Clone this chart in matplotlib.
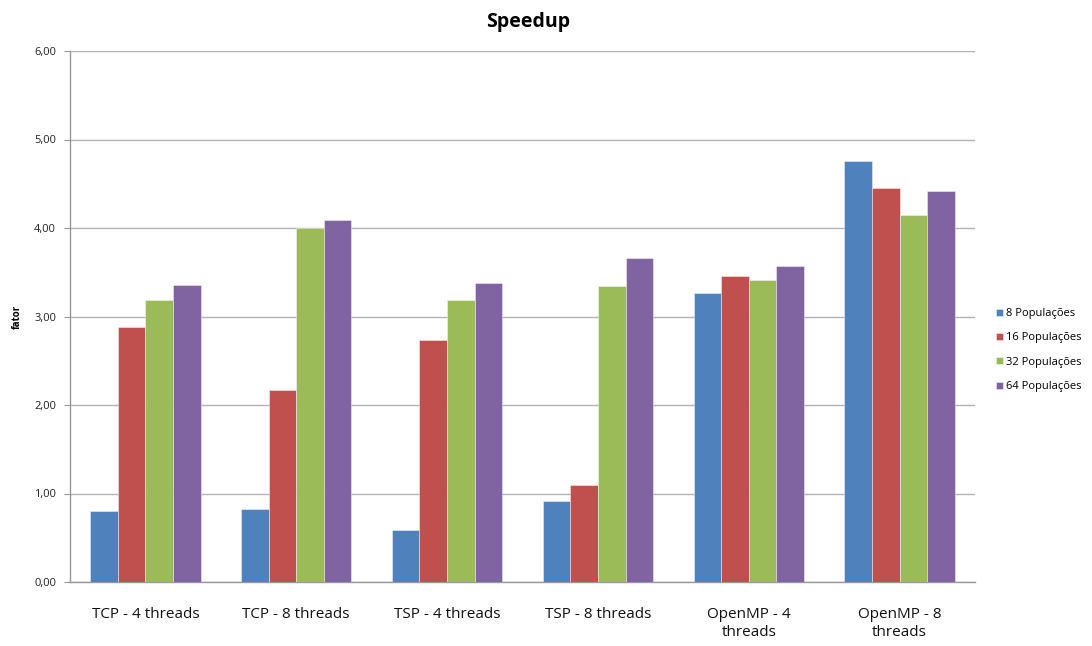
import matplotlib
matplotlib.use("Agg")
import matplotlib.pyplot as plt
import numpy as np
from matplotlib.ticker import FuncFormatter

categories = ["TCP - 4 threads", "TCP - 8 threads", "TSP - 4 threads",
              "TSP - 8 threads", "OpenMP - 4\nthreads", "OpenMP - 8\nthreads"]
series_names = ["8 Populações", "16 Populações", "32 Populações", "64 Populações"]
pop8 = [0.80, 0.82, 0.59, 0.91, 3.26, 4.76]
pop16 = [2.88, 2.17, 2.74, 1.10, 3.46, 4.45]
pop32 = [3.19, 4.00, 3.19, 3.35, 3.41, 4.15]
pop64 = [3.36, 4.09, 3.38, 3.66, 3.57, 4.42]
series = [pop8, pop16, pop32, pop64]
colors = ["#4F81BD", "#C0504D", "#9BBB59", "#8064A2"]
yticks = [0, 1, 2, 3, 4, 5, 6]

plt.rcParams['font.family'] = ['Open Sans', 'DejaVu Sans']

fig = plt.figure(figsize=(10.92, 6.46), dpi=100)
ax = fig.add_axes([70/1092, 1-582/646, (975-70)/1092, (582-51)/646])

x = np.arange(len(categories))
w = 0.183
for i, (vals, c, name) in enumerate(zip(series, colors, series_names)):
    ax.bar(x + (i - 1.5) * w, vals, width=w, color=c, label=name,
           edgecolor=(1, 1, 1, 0.5), linewidth=0.6, zorder=3)

ax.set_xlim(-0.5, len(categories) - 0.5)
ax.set_ylim(0, 6)
ax.set_yticks(yticks)
ax.yaxis.set_major_formatter(FuncFormatter(lambda v, p: f"{v:.2f}".replace(".", ",")))
ax.grid(axis='y', color='#B3B3B3', linewidth=1.0, zorder=0)
ax.set_axisbelow(True)
for s in ['top', 'right']:
    ax.spines[s].set_visible(False)
for s in ['left', 'bottom']:
    ax.spines[s].set_color('#999999')
    ax.spines[s].set_linewidth(1.0)
ax.tick_params(axis='y', length=4, color='#999999', labelsize=8, pad=6, labelcolor='#222222')
ax.tick_params(axis='x', length=0, labelsize=11, pad=18, labelcolor='#111111')
ax.set_xticks(x)
ax.set_xticklabels(categories, linespacing=1.25)

ax.set_ylabel("fator", fontsize=7, fontweight='bold', labelpad=8)
fig.text(0.5 * (70 + 975) / 1092 + 0.005, 1 - 22/646, "Speedup", ha='center', va='center',
         fontsize=14, fontweight='bold')

leg = fig.legend(loc='center left', bbox_to_anchor=(986/1092, 1 - 350/646),
                 frameon=False, fontsize=8, handlelength=0.6, handleheight=0.6,
                 handletextpad=0.3, labelspacing=1.2)

fig.savefig("out.png", dpi=100)
